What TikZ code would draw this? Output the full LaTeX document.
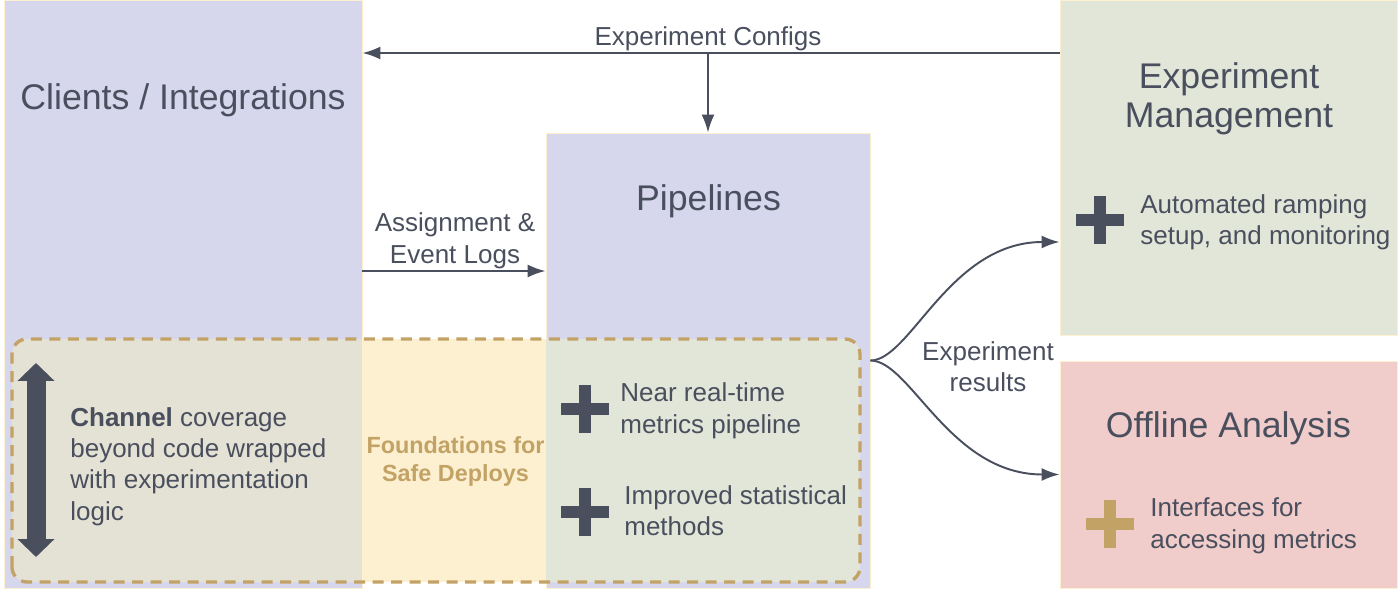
\documentclass[tikz,border=0pt]{standalone}
\usepackage{fontspec}
\setmainfont{Liberation Sans}
\usetikzlibrary{arrows.meta}

\definecolor{lavender}{HTML}{D6D7EC}
\definecolor{sage}{HTML}{E2E6D8}
\definecolor{rose}{HTML}{F0CCCB}
\definecolor{cream}{HTML}{FCF0D0}
\definecolor{stone}{HTML}{E4E1D5}
\definecolor{goldtan}{HTML}{C3A265}
\definecolor{slate}{HTML}{4A4F5E}

\tikzset{
	plusmark/.pic={
		\fill (-0.48,-0.12) rectangle (0.48,0.12);
		\fill (-0.12,-0.48) rectangle (0.12,0.48);
	}
}

\begin{document}
\begin{tikzpicture}[
	box/.style={rectangle, inner sep=0pt, draw=cream, line width=0.5pt},
	title/.style={text=slate, font=\fontsize{20.3}{22.1}\selectfont, inner sep=0pt},
	body/.style={text=slate, font=\fontsize{14.8}{17.8}\selectfont, inner sep=0pt},
	link/.style={draw=slate, line width=1.1pt, -{Latex[length=0.36cm,width=0.26cm]}}
	]
	\useasboundingbox (0,0) rectangle (28,11.86);
	
	%Blocks
	\node (clients) at (3.66,5.98) [box, fill=lavender, minimum width=7.16cm, minimum height=11.76cm] {};
	\node (pipelines) at (14.16,4.65) [box, fill=lavender, minimum width=6.48cm, minimum height=9.10cm] {};
	\node (expMgmt) at (24.57,8.51) [box, fill=sage, minimum width=6.74cm, minimum height=6.70cm] {};
	\node (offline) at (24.57,2.37) [box, fill=rose, minimum width=6.74cm, minimum height=4.54cm] {};
	
	%Safe deploys band
	\begin{scope}
		\clip [rounded corners=0.3cm] (0.24,0.22) rectangle (17.20,5.08);
		\fill [stone] (0.24,0.22) rectangle (7.24,5.08);
		\fill [cream] (7.24,0.22) rectangle (10.92,5.08);
		\fill [sage] (10.92,0.22) rectangle (17.20,5.08);
	\end{scope}
	\draw [goldtan, line width=1.9pt, dash pattern=on 0.22cm off 0.15cm, rounded corners=0.3cm] (0.24,0.22) rectangle (17.20,5.08);
	
	%Titles
	\node (clientsTitle) at (3.66,9.66) [title, anchor=base] {Clients / Integrations};
	\node (pipelinesTitle) at (14.17,7.65) [title, anchor=base] {Pipelines};
	\node (mgmtTitle) at (24.58,9.89) [title, align=center] {Experiment\\Management};
	\node (offlineTitle) at (24.57,3.12) [title, anchor=base] {Offline Analysis};
	
	%Texts
	\node (channelText) at (1.40,2.53) [body, anchor=west, align=left] {\textbf{Channel} coverage\\beyond code wrapped\\with experimentation\\logic};
	\node (foundText) at (9.11,2.64) [text=goldtan, font=\bfseries\fontsize{13.3}{15.9}\selectfont, align=center, inner sep=0pt] {Foundations for\\Safe Deploys};
	\node (nearText) at (12.40,3.644) [body, anchor=west, align=left] {Near real-time\\metrics pipeline};
	\node (improvedText) at (12.48,1.648) [body, anchor=west, align=left] {Improved statistical\\methods};
	\node (autoText) at (22.80,7.414) [body, anchor=west, align=left] {Automated ramping\\setup, and monitoring};
	\node (ifaceText) at (23.00,1.344) [body, anchor=west, align=left] {Interfaces for\\accessing metrics};
	
	%Plus marks
	\pic [fill=slate] at (11.69,3.68) {plusmark};
	\pic [fill=slate] at (11.69,1.62) {plusmark};
	\pic [fill=slate] at (21.99,7.46) {plusmark};
	\pic [fill=goldtan] at (22.20,1.39) {plusmark};
	
	%Channel coverage arrow
	\coordinate (chanTop) at (0.72,4.60);
	\coordinate (chanBot) at (0.72,0.72);
	\draw [slate, line width=0.38cm, {Triangle[length=0.36cm,width=0.72cm]}-{Triangle[length=0.36cm,width=0.72cm]}] (chanTop) -- (chanBot);
	
	%Links
	\coordinate (cfgSplit) at (14.16,10.80);
	\coordinate (logsLevel) at (9.10,6.44);
	\draw [link] (expMgmt.west |- cfgSplit) -- (clients.east |- cfgSplit);
	\draw [link] (cfgSplit) -- (pipelines.north);
	\draw [link] (clients.east |- logsLevel) -- (pipelines.west |- logsLevel);
	\draw [link] (pipelines.east) .. controls +(0.8,0) and +(-2.2,0) .. ([yshift=-1.49cm]expMgmt.west);
	\draw [link] (pipelines.east) .. controls +(0.8,0) and +(-2.2,0) .. (offline.west);
	
	%Labels
	\node (configsLabel) at (14.16,10.94) [body, anchor=base] {Experiment Configs};
	\node (logsLabel) at (9.10,7.044) [body, align=center] {Assignment \&\\Event Logs};
	\node (resultsLabel) at (19.76,4.53) [body, align=center] {Experiment\\results};
	
\end{tikzpicture}
\end{document}
